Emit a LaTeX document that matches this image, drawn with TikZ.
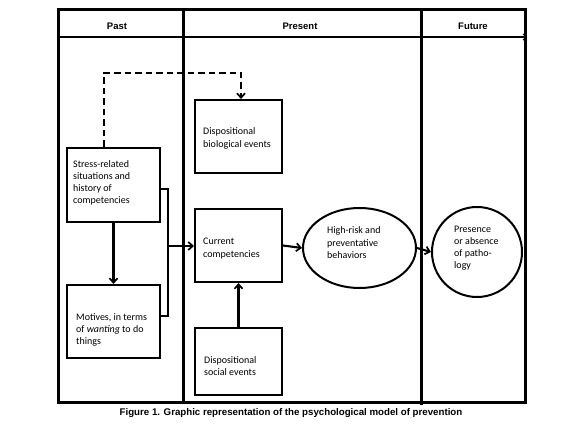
\documentclass[tikz,border=0pt]{standalone}
\usepackage{fontspec}
\setmainfont{Carlito}
\newfontfamily\arialfont{Liberation Sans}
\usetikzlibrary{arrows.meta,shapes.geometric}
\tikzset{
  frame/.style={line width=3pt},
  box/.style={draw, line width=2pt, inner sep=0pt},
  txt/.style={anchor=base west, inner sep=0pt, align=left, font=\fontsize{10}{12.3}\selectfont},
  hdr/.style={anchor=base, inner sep=0pt, font=\arialfont\bfseries\fontsize{9.5}{11}\selectfont},
  conn/.style={line width=2.1pt, -{Straight Barb[length=4.5pt,width=8pt,line width=1.7pt]}},
  plain/.style={line width=2.1pt}
}
\begin{document}
\begin{tikzpicture}[x=1pt,y=-1pt]
\useasboundingbox (0,0) rectangle (579,425);
% frame
\coordinate (tl) at (58,10);
\coordinate (br) at (525,402);
\draw[frame] (tl) rectangle (br);
\draw[frame] (183,10) -- (183,402);
\draw[frame] (421,10) -- (421,405);
\coordinate (hl) at (58,37);
\coordinate (hr) at (527,37);
\draw[line width=1.1pt, -{Straight Barb[length=3pt,width=6pt,line width=1.1pt]}] (hl) -- (hr);
\node[hdr] (past) at (117,29.5) {Past};
\node[hdr] (present) at (300,29.5) {Present};
\node[hdr] (future) at (473,29.5) {Future};
% boxes
\node[box, minimum width=93pt, minimum height=74pt] (stress) at (113.5,185) {};
\node[box, minimum width=93pt, minimum height=73pt] (motives) at (113.5,321.5) {};
\node[box, minimum width=87pt, minimum height=73pt] (bio) at (238.5,136.5) {};
\node[box, minimum width=87pt, minimum height=73pt] (current) at (238.5,245.5) {};
\node[box, minimum width=87pt, minimum height=67pt] (social) at (238.5,361.5) {};
\node[draw, ellipse, line width=2pt, minimum width=113pt, minimum height=80pt, inner sep=0pt] (risk) at (359.5,248) {};
\node[draw, circle, line width=2pt, minimum size=90pt, inner sep=0pt] (patho) at (477,252) {};
% texts (base = last line)
\node[txt] (t1) at (73,204) {Stress-related\\situations and\\history of\\competencies};
\node[txt] (t2) at (76,344.6) {Motives, in terms\\of \textit{wanting} to do\\things};
\node[txt] (t3) at (203,147.3) {Dispositional\\biological events};
\node[txt] (t4) at (203,257.3) {Current\\competencies};
\node[txt] (t5) at (204,375.3) {Dispositional\\social events};
\node[txt] (t6) at (327,258.6) {High-risk and\\preventative\\behaviors};
\node[txt] (t7) at (454,268.9) {Presence\\or absence\\of patho-\\logy};
% connectors
\draw[conn] (stress.south) -- (motives.north);
\coordinate (b1) at (168,189);
\coordinate (b2) at (168,316);
\coordinate (bm) at (168,246);
\draw[plain] (stress.east |- b1) -- (b1) -- (b2) -- (motives.east |- b2);
\draw[conn] (bm) -- (current.west |- bm);
\coordinate (d1) at (104,73);
\coordinate (d2) at (241,73);
\draw[line width=2.1pt, dash pattern=on 6.5pt off 4pt, -{Straight Barb[length=4.5pt,width=8pt,line width=1.7pt]}] (stress.north -| d1) -- (d1) -- (d2) -- (bio.north -| d2);
\draw[conn] (social.north) -- (current.south);
\draw[conn] (current.east) -- (risk.west);
\draw[conn] (risk.east) -- (patho.west);
% caption
\node[anchor=base, inner sep=0pt, font=\arialfont\bfseries\fontsize{9.7}{11}\selectfont] (cap) at (291,415.5) {Figure 1. Graphic representation of the psychological model of prevention};
\end{tikzpicture}
\end{document}
